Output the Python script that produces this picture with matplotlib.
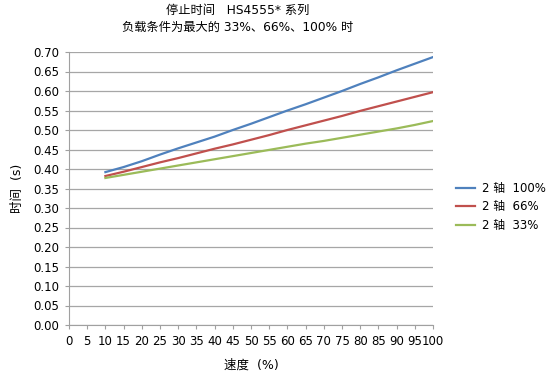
import matplotlib
matplotlib.use("Agg")
import matplotlib.pyplot as plt

plt.rcParams['font.family'] = ['DejaVu Sans', 'Noto Sans CJK SC']

speed = [10, 15, 20, 25, 30, 35, 40, 45, 50, 55, 60, 65, 70, 75, 80, 85, 90, 95, 100]
axis_100 = [0.392, 0.405, 0.420, 0.437, 0.453, 0.468, 0.483, 0.500, 0.516, 0.533,
            0.550, 0.566, 0.583, 0.600, 0.618, 0.635, 0.653, 0.670, 0.687]
axis_66 = [0.382, 0.393, 0.405, 0.417, 0.428, 0.440, 0.452, 0.463, 0.475, 0.487,
           0.500, 0.512, 0.524, 0.536, 0.549, 0.561, 0.573, 0.585, 0.597]
axis_33 = [0.377, 0.385, 0.393, 0.401, 0.409, 0.417, 0.425, 0.433, 0.441, 0.449,
           0.457, 0.465, 0.472, 0.480, 0.488, 0.496, 0.504, 0.513, 0.523]
labels = ['2 轴  100%', '2 轴  66%', '2 轴  33%']
colors = ['#4F81BD', '#C0504D', '#9BBB59']

fig = plt.figure(figsize=(5.5, 3.72), dpi=100)
ax = fig.add_axes([69/550, 1-325/372, 364/550, 273/372])

for ys, lab, c in zip([axis_100, axis_66, axis_33], labels, colors):
    ax.plot(speed, ys, color=c, lw=1.6, label=lab)

ax.set_xlim(0, 100)
ax.set_ylim(0, 0.70)
ax.set_xticks(range(0, 101, 5))
ax.set_yticks([i * 0.05 for i in range(15)])
ax.set_yticklabels([f"{i*0.05:.2f}" for i in range(15)])
ax.tick_params(labelsize=8.5, color='#A0A0A0', length=3, pad=4)
ax.grid(axis='y', color='#A6A6A6', lw=0.9)
ax.set_axisbelow(True)
for s in ['top', 'right']:
    ax.spines[s].set_visible(False)
for s in ['left', 'bottom']:
    ax.spines[s].set_color('#A0A0A0')

ax.set_xlabel('速度  (%)', fontsize=9, labelpad=8)
ax.set_ylabel('时间  (s)', fontsize=9, labelpad=7)

fig.text(238/550, 1-10/372, '停止时间   HS4555* 系列', ha='center', va='center', fontsize=8.8)
fig.text(238/550, 1-27/372, '负载条件为最大的 33%、66%、100% 时', ha='center', va='center', fontsize=8.8)

ax.legend(loc='center left', bbox_to_anchor=(456/550, 1-207/372), bbox_transform=fig.transFigure,
          frameon=False, fontsize=8.5, handlelength=1.6, handletextpad=0.6,
          labelspacing=0.45, borderaxespad=0, borderpad=0)

fig.savefig('out.png', dpi=100)
